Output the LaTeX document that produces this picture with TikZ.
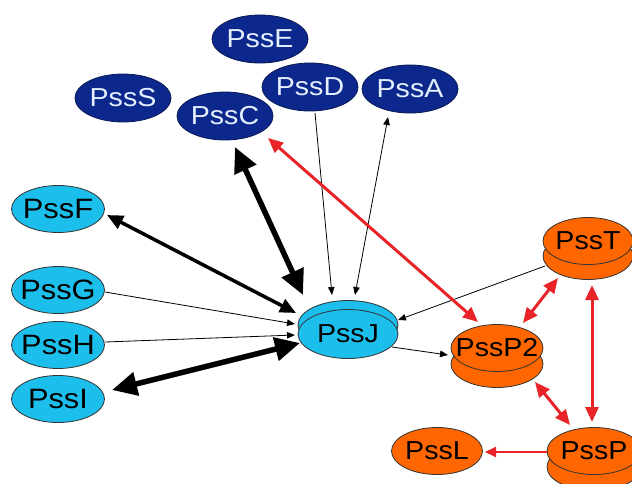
\documentclass[tikz,border=0pt]{standalone}
\usepackage{fontspec}
\setmainfont{Liberation Sans}
\newfontfamily\widefont[FakeStretch=1.1]{Liberation Sans}
\usetikzlibrary{shapes.geometric,arrows.meta,calc}
\definecolor{navyf}{RGB}{12,40,140}
\definecolor{navyt}{RGB}{228,240,255}
\definecolor{cyanf}{RGB}{28,190,236}
\definecolor{orangef}{RGB}{255,102,0}
\definecolor{redl}{RGB}{232,36,40}
\begin{document}
\begin{tikzpicture}[x=1pt,y=-1pt,
  base/.style={ellipse, draw=black!80, line width=0.8pt, inner sep=0pt, minimum width=#1},
  txt/.style={font=\widefont\fontsize{26}{30}\selectfont, inner sep=0pt},
  bigtxt/.style={font=\widefont\fontsize{28}{30}\selectfont, inner sep=0pt},
  navyell/.style={base=96pt, minimum height=48pt, fill=navyf, draw=navyf!60!black, label={[txt, text=navyt]center:#1}},
  cyanell/.style={base=93pt, minimum height=47pt, fill=cyanf, label={[bigtxt]center:#1}},
  orell/.style={base=92pt, minimum height=47pt, fill=orangef, label={[txt]center:#1}},
  cyanback/.style={base=100pt, minimum height=49pt, fill=cyanf},
  orback/.style={base=92pt, minimum height=47pt, fill=orangef},
  thinarr/.style={draw=black, line width=0.8pt, -{Triangle[length=8pt,width=6.5pt]}},
  thinboth/.style={draw=black, line width=0.8pt, {Triangle[length=8pt,width=6.5pt]}-{Triangle[length=8pt,width=6.5pt]}},
  midboth/.style={draw=black, line width=3.5pt, {Triangle[length=16pt,width=14pt]}-{Triangle[length=16pt,width=14pt]}},
  heavyboth/.style={draw=black, line width=5.5pt, {Triangle[length=25pt,width=23pt]}-{Triangle[length=25pt,width=23pt]}},
  redboth/.style={draw=redl, line width=3pt, {Triangle[length=15pt,width=13pt]}-{Triangle[length=15pt,width=13pt]}},
  redarr/.style={draw=redl, line width=2pt, -{Triangle[length=11pt,width=10pt]}}
]
\useasboundingbox (0,0) rectangle (632,483);
\fill[white] (0,0) rectangle (632,483);

% dark blue nodes
\node[navyell=PssE] (E) at (260,39) {};
\node[navyell=PssS] (S) at (123,98) {};
\node[navyell=PssC] (C) at (225,116) {};
\node[navyell=PssD] (D) at (310,87) {};
\node[navyell=PssA] (A) at (410,89) {};

% light blue nodes
\node[cyanell=PssF] (F) at (58,209) {};
\node[cyanell=PssG] (G) at (58,290) {};
\node[cyanell=PssH] (H) at (58,345) {};
\node[cyanell=PssI] (I) at (58,399) {};
\node[cyanback] (Jb) at (348,325) {};
\node[cyanback, label={[txt]center:PssJ}] (J) at (348,334) {};

% orange nodes
\node[orback] (P2b) at (497,364) {};
\node[orell=PssP2] (P2) at (497,348) {};
\node[orback, minimum width=90pt] (Tb) at (588,256) {};
\node[orell=PssT, minimum width=90pt] (T) at (588,241) {};
\node[orback, minimum width=94pt] (Pb) at (594,467) {};
\node[orell=PssP, minimum width=94pt] (P) at (594,451) {};
\node[orell=PssL, minimum width=91pt] (L) at (437,451) {};

% connectors
\draw[midboth] ($(F)+(49,6)$) -- ($(J)+(-52,-21)$);
\draw[thinarr] ($(G)+(47,2)$) -- ($(J)+(-53,-10)$);
\draw[thinarr] ($(H)+(47,-3)$) -- ($(J)+(-53,1)$);
\draw[heavyboth] ($(I)+(54,-9)$) -- ($(J)+(-48,9)$);
\draw[heavyboth] ($(C)+(10,31)$) -- ($(J)+(-45,-39)$);
\draw[thinarr] ($(D)+(5,26)$) -- ($(J)+(-16,-39)$);
\draw[thinboth] ($(A)+(-22,28)$) -- ($(J)+(7,-39)$);
\draw[thinarr] ($(T)+(-43,25)$) -- ($(J)+(50,-14)$);
\draw[thinarr] ($(J)+(44,13)$) -- ($(P2)+(-49,7)$);
\draw[redboth] ($(C)+(43,22)$) -- ($(P2)+(-19,-26)$);
\draw[redboth] ($(P2)+(26,-25)$) -- ($(T)+(-30,37)$);
\draw[redboth] ($(P2)+(38,34)$) -- ($(P)+(-24,-26)$);
\draw[redboth] ($(T)+(4,44)$) -- ($(P)+(-2,-29)$);
\draw[redarr] ($(P)+(-47,1)$) -- ($(L)+(48,1)$);
\end{tikzpicture}
\end{document}
